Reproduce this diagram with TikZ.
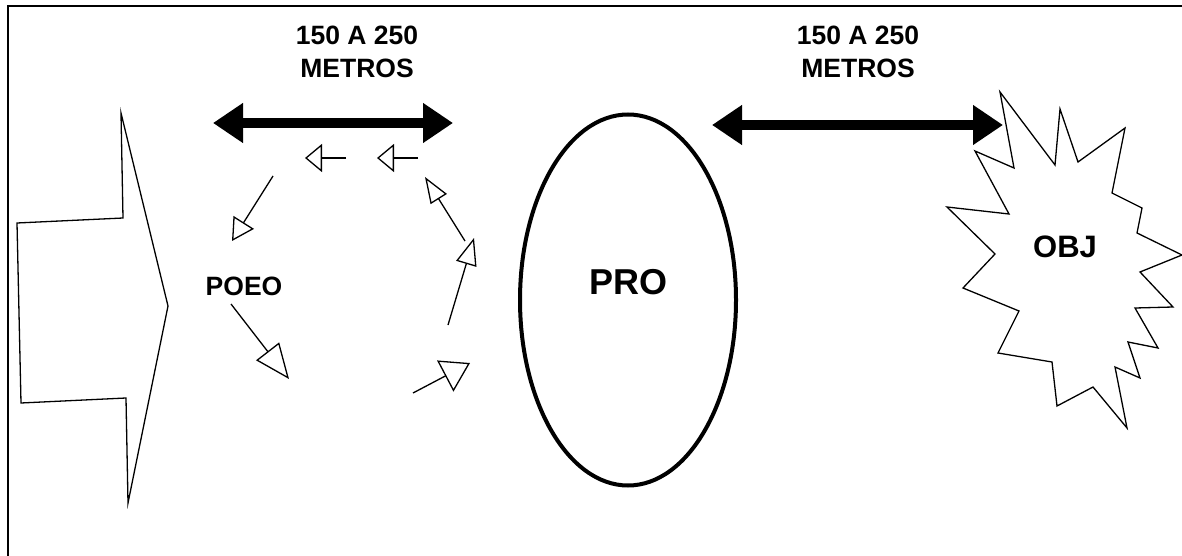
\documentclass[tikz,border=0pt]{standalone}
\usepackage{fontspec}
\setmainfont{Liberation Sans}
\usetikzlibrary{arrows.meta,shapes.geometric}

\tikzset{
  trazo/.style={line width=1.3pt},
  doble/.style={line width=10pt, {Triangle[length=30pt,width=38pt]}-{Triangle[length=30pt,width=38pt]}},
  giro/.style 2 args={line width=1.3pt, -{Triangle[open,length=#1,width=#2]}},
  rotulo/.style={font=\fontsize{26.5}{33}\selectfont\bfseries, align=center}
}

\begin{document}
\begin{tikzpicture}[x=1pt,y=-1pt]
\useasboundingbox (0,0) rectangle (1182,556);
\draw[line width=1.8pt] (8,570) -- (8,6) -- (1195,6);

\draw[trazo] (121,113) -- (123,218) -- (17,223) -- (21,403) -- (126,398) -- (128,503) -- (168,306) -- cycle;

\draw[trazo] (1000,92) -- (1055,165) -- (1060,109) -- (1078,162) -- (1125,128) -- (1112,193) -- (1142,208)
  -- (1137,233) -- (1182,255) -- (1140,272) -- (1173,307) -- (1135,308) -- (1158,348) -- (1128,342)
  -- (1140,378) -- (1115,367) -- (1127,428) -- (1093,387) -- (1057,406) -- (1052,362) -- (998,353)
  -- (1019,311) -- (963,288) -- (995,254) -- (947,207) -- (1009,214) -- (975,151) -- (1014,168) -- cycle;

\node[draw, ellipse, line width=4pt, minimum width=216pt, minimum height=371pt, inner sep=0pt] (pro) at (628,300) {};
\node[font=\fontsize{36}{40}\selectfont\bfseries] (protxt) at (628,282) {PRO};
\node[font=\fontsize{31}{36}\selectfont\bfseries] (obj) at (1065,247) {OBJ};
\node[rotulo] (poeo) at (244,286) {POEO};

\node[rotulo] (dist1) at (357,52) {150 A 250\\METROS};
\node[rotulo] (dist2) at (858,52) {150 A 250\\METROS};

\coordinate (d1a) at (213,123);
\coordinate (d1b) at (453,123);
\coordinate (d2a) at (712,125);
\coordinate (d2b) at (1003,125);
\draw[doble] (d1a) -- (d1b);
\draw[doble] (d2a) -- (d2b);

\draw[giro={17pt}{28pt}] (346,158) -- (305,158);
\draw[giro={17pt}{28pt}] (418,158) -- (377,158);
\draw[giro={22pt}{24pt}] (273,176) -- (232,241);
\draw[giro={35pt}{29pt}] (231,304) -- (289,379);
\draw[giro={28pt}{35pt}] (413,393) -- (470,363);
\draw[giro={27pt}{21pt}] (448,325) -- (474,238);
\draw[giro={26pt}{19pt}] (465,241) -- (425,177);
\end{tikzpicture}
\end{document}
